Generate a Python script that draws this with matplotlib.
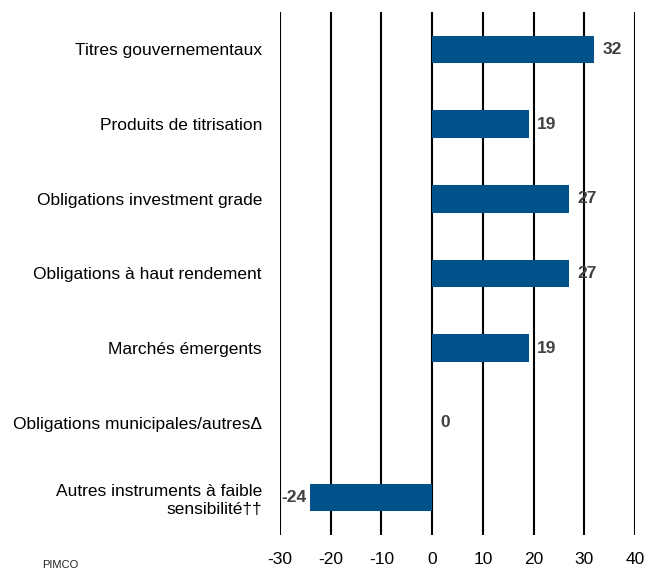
import matplotlib
matplotlib.use("Agg")
import matplotlib.pyplot as plt

categories = [
    "Titres gouvernementaux",
    "Produits de titrisation",
    "Obligations investment grade",
    "Obligations à haut rendement",
    "Marchés émergents",
    "Obligations municipales/autres\u0394",
    "Autres instruments à faible\nsensibilité\u2020\u2020",
]
values = [32, 19, 27, 27, 19, 0, -24]
xticks = [-30, -20, -10, 0, 10, 20, 30, 40]

plt.rcParams['font.family'] = ['Liberation Sans', 'DejaVu Sans']

fig = plt.figure(figsize=(6.45, 5.69), dpi=100)
ax = fig.add_axes([280/645, 1-535/569, (635-280)/645, (535-12)/569])

y = list(range(len(categories)))
ax.barh(y, values, height=0.37, color='#00538A', zorder=3)

for yi, v in zip(y, values):
    if v < 0:
        ax.annotate(f"{v}", (v, yi), xytext=(-3, 0), textcoords='offset points',
                    ha='right', va='center', fontsize=12.5, fontweight='bold', color='#404040')
    else:
        ax.annotate(f"{v}", (v, yi), xytext=(6, 0), textcoords='offset points',
                    ha='left', va='center', fontsize=12.5, fontweight='bold', color='#404040')

ax.set_xlim(-30, 40)
ax.set_ylim(6.5, -0.5)
ax.set_xticks(xticks)
ax.set_xticklabels([str(t) for t in xticks], fontsize=12.5)
ax.set_yticks(y)
ax.set_yticklabels(categories, fontsize=12.5, ha='right')
ax.tick_params(axis='both', length=0)
ax.tick_params(axis='y', pad=13)
ax.tick_params(axis='x', pad=12)
for s in ax.spines.values():
    s.set_visible(False)
for t in xticks:
    ax.axvline(t, color='black', lw=1.5, zorder=1)

fig.text(42/645, 1-560/569, "PIMCO", fontsize=8, va='top', ha='left', color='#222222')

fig.savefig("out.png", dpi=100)
